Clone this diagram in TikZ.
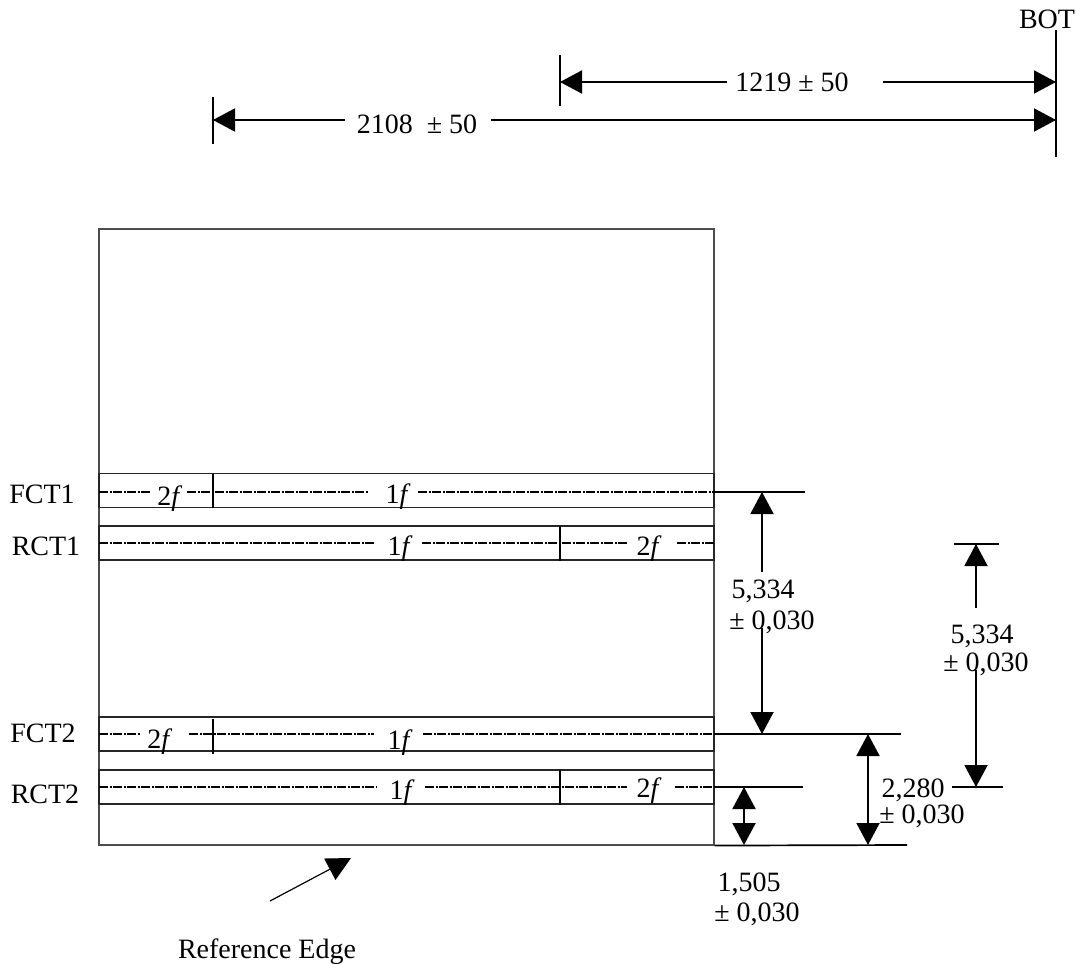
\documentclass[tikz,border=0pt]{standalone}
\usepackage{fontspec}
\setmainfont{Liberation Serif}
\usetikzlibrary{arrows.meta}
\tikzstyle{lbl} = [inner sep=0pt, anchor=base, font=\fontsize{28}{30}\selectfont]
\tikzstyle{frame} = [rectangle, draw=black!70, line width=1.1pt, minimum width=615pt, inner sep=0pt]
\tikzstyle{band} = [rectangle, draw=black!85, line width=1.1pt, minimum width=615pt, minimum height=34pt, inner sep=0pt]
\tikzstyle{axis} = [line width=1.4pt, dash pattern=on 9pt off 1.5pt on 2pt off 1.5pt]
\tikzstyle{split} = [line width=1.7pt]
\tikzstyle{ext} = [line width=1.7pt]
\tikzstyle{tick} = [line width=1.2pt]
\tikzstyle{arrow} = [line width=2pt,-{Triangle[length=22pt,width=23pt]}]
\tikzstyle{both} = [line width=2pt,{Triangle[length=22pt,width=23pt]}-{Triangle[length=22pt,width=23pt]}]
\begin{document}
\begin{tikzpicture}[x=1pt,y=-1pt]
\useasboundingbox (0,0) rectangle (1077,964);

% Plate and bands
\node (plate) at (406.5,537) [frame, minimum height=616pt] {};
\node (fctone) at (406.5,490.5) [band] {};
\node (rctone) at (406.5,543) [band] {};
\node (fcttwo) at (406.5,734) [band] {};
\node (rcttwo) at (406.5,787) [band] {};

% Band names
\node (fctonename) at (42,503) [lbl] {FCT1};
\node (rctonename) at (46,555) [lbl] {RCT1};
\node (fcttwoname) at (43,742) [lbl] {FCT2};
\node (rcttwoname) at (45,803) [lbl] {RCT2};

% Zone labels
\node (ftwofa) at (170,505) [lbl] {2\textit{f}};
\node (fonefa) at (398,503) [lbl] {1\textit{f}};
\node (fonera) at (400,555) [lbl] {1\textit{f}};
\node (ftwora) at (649,555) [lbl] {2\textit{f}};
\node (ftwofb) at (160,748) [lbl] {2\textit{f}};
\node (fonefb) at (400,749) [lbl] {1\textit{f}};
\node (fonerb) at (402,799) [lbl] {1\textit{f}};
\node (ftworb) at (649,797) [lbl] {2\textit{f}};

% Dimension texts
\node (bot) at (1047,28) [lbl] {BOT};
\node (shortlen) at (792,91) [lbl] {1219 ± 50};
\node (longlen) at (417,133) [lbl] {2108\ \ ± 50};
\node (pitchonea) at (763,598) [lbl] {5,334};
\node (pitchoneb) at (772,629) [lbl] {± 0,030};
\node (pitchtwoa) at (982,643) [lbl] {5,334};
\node (pitchtwob) at (986,671) [lbl] {± 0,030};
\node (midgapa) at (913,797) [lbl] {2,280};
\node (midgapb) at (922,823) [lbl] {± 0,030};
\node (lowgapa) at (749,891) [lbl] {1,505};
\node (lowgapb) at (757,921) [lbl] {± 0,030};
\node (refedge) at (267,958) [lbl] {Reference Edge};

% Band centre lines
\coordinate (fa0) at (99,492);
\coordinate (fa1) at (151,492);
\coordinate (fa2) at (187,492);
\coordinate (fa3) at (368,492);
\coordinate (fa4) at (418,492);
\coordinate (fa5) at (714,492);
\coordinate (ra0) at (99,543);
\coordinate (ra1) at (374,543);
\coordinate (ra2) at (422,543);
\coordinate (ra3) at (628,543);
\coordinate (ra4) at (677,543);
\coordinate (ra5) at (714,543);
\coordinate (fb0) at (99,734);
\coordinate (fb1) at (140,734);
\coordinate (fb2) at (189,734);
\coordinate (fb3) at (374,734);
\coordinate (fb4) at (423,734);
\coordinate (fb5) at (714,734);
\coordinate (rb0) at (99,787);
\coordinate (rb1) at (376,787);
\coordinate (rb2) at (425,787);
\coordinate (rb3) at (627,787);
\coordinate (rb4) at (675,787);
\coordinate (rb5) at (714,787);
\draw [axis] (fa0) -- (fa1);
\draw [axis] (fa2) -- (fa3);
\draw [axis] (fa4) -- (fa5);
\draw [axis] (ra0) -- (ra1);
\draw [axis] (ra2) -- (ra3);
\draw [axis] (ra4) -- (ra5);
\draw [axis] (fb0) -- (fb1);
\draw [axis] (fb2) -- (fb3);
\draw [axis] (fb4) -- (fb5);
\draw [axis] (rb0) -- (rb1);
\draw [axis] (rb2) -- (rb3);
\draw [axis] (rb4) -- (rb5);

% Zone splits
\coordinate (splitfa) at (213,474);
\coordinate (splitra) at (560,526);
\coordinate (splitfb) at (213,719);
\coordinate (splitrb) at (560,770);
\draw [split] (splitfa) -- (splitfa |- fctone.south);
\draw [split] (splitra) -- (splitra |- rctone.south);
\draw [split] (splitfb) -- ++(0,35);
\draw [split] (splitrb) -- (splitrb |- rcttwo.south);

% Extension lines
\coordinate (topa) at (805,492);
\coordinate (topb) at (901,734);
\coordinate (topc) at (803,787);
\coordinate (topd) at (907,845);
\coordinate (pitcha) at (954,544);
\coordinate (pitchb) at (999,544);
\coordinate (pitchc) at (952,787);
\coordinate (pitchd) at (1003,787);
\draw [ext] (fa5) -- (topa);
\draw [ext] (fb5) -- (topb);
\draw [ext] (rb5) -- (topc);
\draw [ext] (plate.south east) -- (topd);
\draw [ext] (pitcha) -- (pitchb);
\draw [ext] (pitchc) -- (pitchd);

% Top dimensions
\coordinate (botup) at (1056,30);
\coordinate (botdown) at (1056,157);
\coordinate (shortup) at (560,55);
\coordinate (shortdown) at (560,106);
\coordinate (longup) at (213,97);
\coordinate (longdown) at (213,144);
\draw [tick] (botup) -- (botdown);
\draw [tick] (shortup) -- (shortdown);
\draw [tick] (longup) -- (longdown);
\coordinate (shorta) at (727,82);
\coordinate (shortb) at (883,82);
\coordinate (longa) at (345,120);
\coordinate (longb) at (491,120);
\draw [arrow] (shorta) -- (shorta -| shortup);
\draw [arrow] (shortb) -- (shortb -| botup);
\draw [arrow] (longa) -- (longa -| longup);
\draw [arrow] (longb) -- (longb -| botup);

% Vertical dimensions
\coordinate (pitchonetop) at (762,572);
\coordinate (pitchonelow) at (762,628);
\coordinate (pitchtwotop) at (976,608);
\coordinate (pitchtwolow) at (976,670);
\coordinate (midgap) at (868,734);
\coordinate (lowgap) at (744,787);
\draw [arrow] (pitchonetop) -- (pitchonetop |- fa5);
\draw [arrow] (pitchonelow) -- (pitchonelow |- fb5);
\draw [arrow] (pitchtwotop) -- (pitchtwotop |- pitcha);
\draw [arrow] (pitchtwolow) -- (pitchtwolow |- pitchc);
\draw [both] (midgap) -- (midgap |- topd);
\draw [both] (lowgap) -- (lowgap |- topd);

% Reference edge pointer
\coordinate (pointtail) at (270,901);
\coordinate (pointtip) at (351,858);
\draw [line width=1.2pt,-{Triangle[length=24pt,width=24pt]}] (pointtail) -- (pointtip);

\end{tikzpicture}
\end{document}
